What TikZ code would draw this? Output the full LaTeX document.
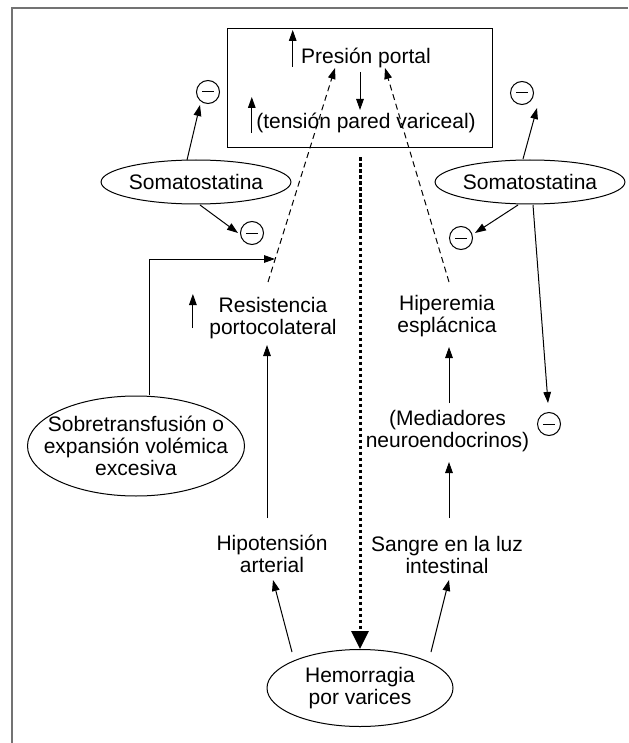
\documentclass[tikz,border=0pt]{standalone}
\usepackage{fontspec}
\setmainfont{Liberation Sans}
\usetikzlibrary{arrows.meta,shapes.geometric,calc}

\begin{document}
\begin{tikzpicture}[
  x=0.5pt, y=-0.5pt, >={Triangle[length=5.5pt,width=3.8pt]},
  font=\fontsize{10.5pt}{10.85pt}\selectfont, line width=0.5pt,
  txt/.style={align=center, inner sep=0pt},
  oval/.style={ellipse, draw, align=center, inner sep=0pt},
  minus/.style={circle, draw, minimum size=11.5pt, inner sep=0pt,
    path picture={\draw ([xshift=-2.8pt]path picture bounding box.center) -- ++(5.6pt,0);}},
  feedback/.style={->, dash pattern=on 3pt off 2pt},
  bleed/.style={-{Triangle[length=9pt,width=8.5pt]}, line width=1.5pt, dash pattern=on 1.6pt off 1.4pt}
]
  \useasboundingbox (0,0) rectangle (628,743);
  \draw[black!55, line width=1pt] (12,743) -- (12,8) -- (628,8);

  % portal pressure box
  \node[draw, minimum width=132.5pt, minimum height=59.5pt] (portal) at (359.5,88.5) {};
  \node[txt] (pp) at (366,58) {Presión portal};
  \node[txt] (tp) at (366,123) {(tensión pared variceal)};

  \node[oval, minimum width=91pt, minimum height=22pt] (somaL) at (196,182) {Somatostatina};
  \node[oval, minimum width=91pt, minimum height=22pt] (somaR) at (530,182) {Somatostatina};
  \node[oval, minimum width=102.5pt, minimum height=50pt, inner xsep=-7.75pt] (sobre) at (136,446)
    {Sobretransfusión o\\expansión volémica\\excesiva};
  \node[oval, minimum width=93pt, minimum height=38.5pt] (hemo) at (360,688) {Hemorragia\\por varices};

  \node[txt] (resist) at (273,318) {Resistencia\\portocolateral};
  \node[txt] (hyper) at (447,316) {Hiperemia\\esplácnica};
  \node[txt] (mediad) at (447.5,431) {(Mediadores\\neuroendocrinos)};
  \node[txt] (hipo) at (272,554) {Hipotensión\\arterial};
  \node[txt] (sangre) at (447,555) {Sangre en la luz\\intestinal};

  \node[minus] (mL1) at (208,92) {};
  \node[minus] (mL2) at (252,233) {};
  \node[minus] (mR1) at (522,93) {};
  \node[minus] (mR2) at (461,238) {};
  \node[minus] (mR3) at (549,424) {};

  % increase / decrease marks
  \draw[->] ($(pp.west)+(-8,9)$) -- ($(pp.west)+(-8,-28)$);
  \draw[->] ($(tp.west)+(-4,10)$) -- ($(tp.west)+(-4,-26)$);
  \draw[->] ($(resist.west)+(-16,10)$) -- ($(resist.west)+(-16,-24)$);
  \draw[->] ($(pp)+(-6,14)$) -- ($(tp)+(-6,-13)$);

  % back to portal pressure
  \draw[feedback] ($(resist)+(-5,-36)$) -- ($(pp)+(-31,10)$);
  \draw[feedback] ($(hyper)+(2,-34)$) -- ($(pp)+(19,10)$);
  \draw[bleed] ($(portal.south)+(0.5,9)$) -- (hemo.north);

  % consequences of bleeding
  \draw[->] ($(hemo)+(-68,-36)$) -- ($(hipo)+(1,26)$);
  \draw[->] ($(hemo)+(71,-36)$) -- ($(sangre)+(2,25)$);
  \draw[->] ($(hipo)+(-5,-36)$) -- ($(resist)+(-6,27)$);
  \draw[->] ($(sangre)+(2,-37)$) -- ($(mediad)+(1.5,31)$);
  \draw[->] ($(mediad)+(1.5,-28)$) -- ($(hyper)+(2,31)$);
  \draw[->] ($(sobre)+(13,-51)$) |- ($(resist)+(2,-59)$);

  % somatostatin
  \draw[->] ($(somaL)+(-9,-22)$) -- ($(mL1)+(-8,13)$);
  \draw[->] ($(somaL)+(4,23)$) -- ($(mL2)+(-14,0)$);
  \draw[->] ($(somaR)+(-7,-23)$) -- ($(mR1)+(15,15)$);
  \draw[->] ($(somaR)+(-12,23)$) -- ($(mR2)+(14,-5)$);
  \draw[->] ($(somaR)+(3,23)$) -- ($(mR3)+(-1,-21)$);
\end{tikzpicture}
\end{document}
